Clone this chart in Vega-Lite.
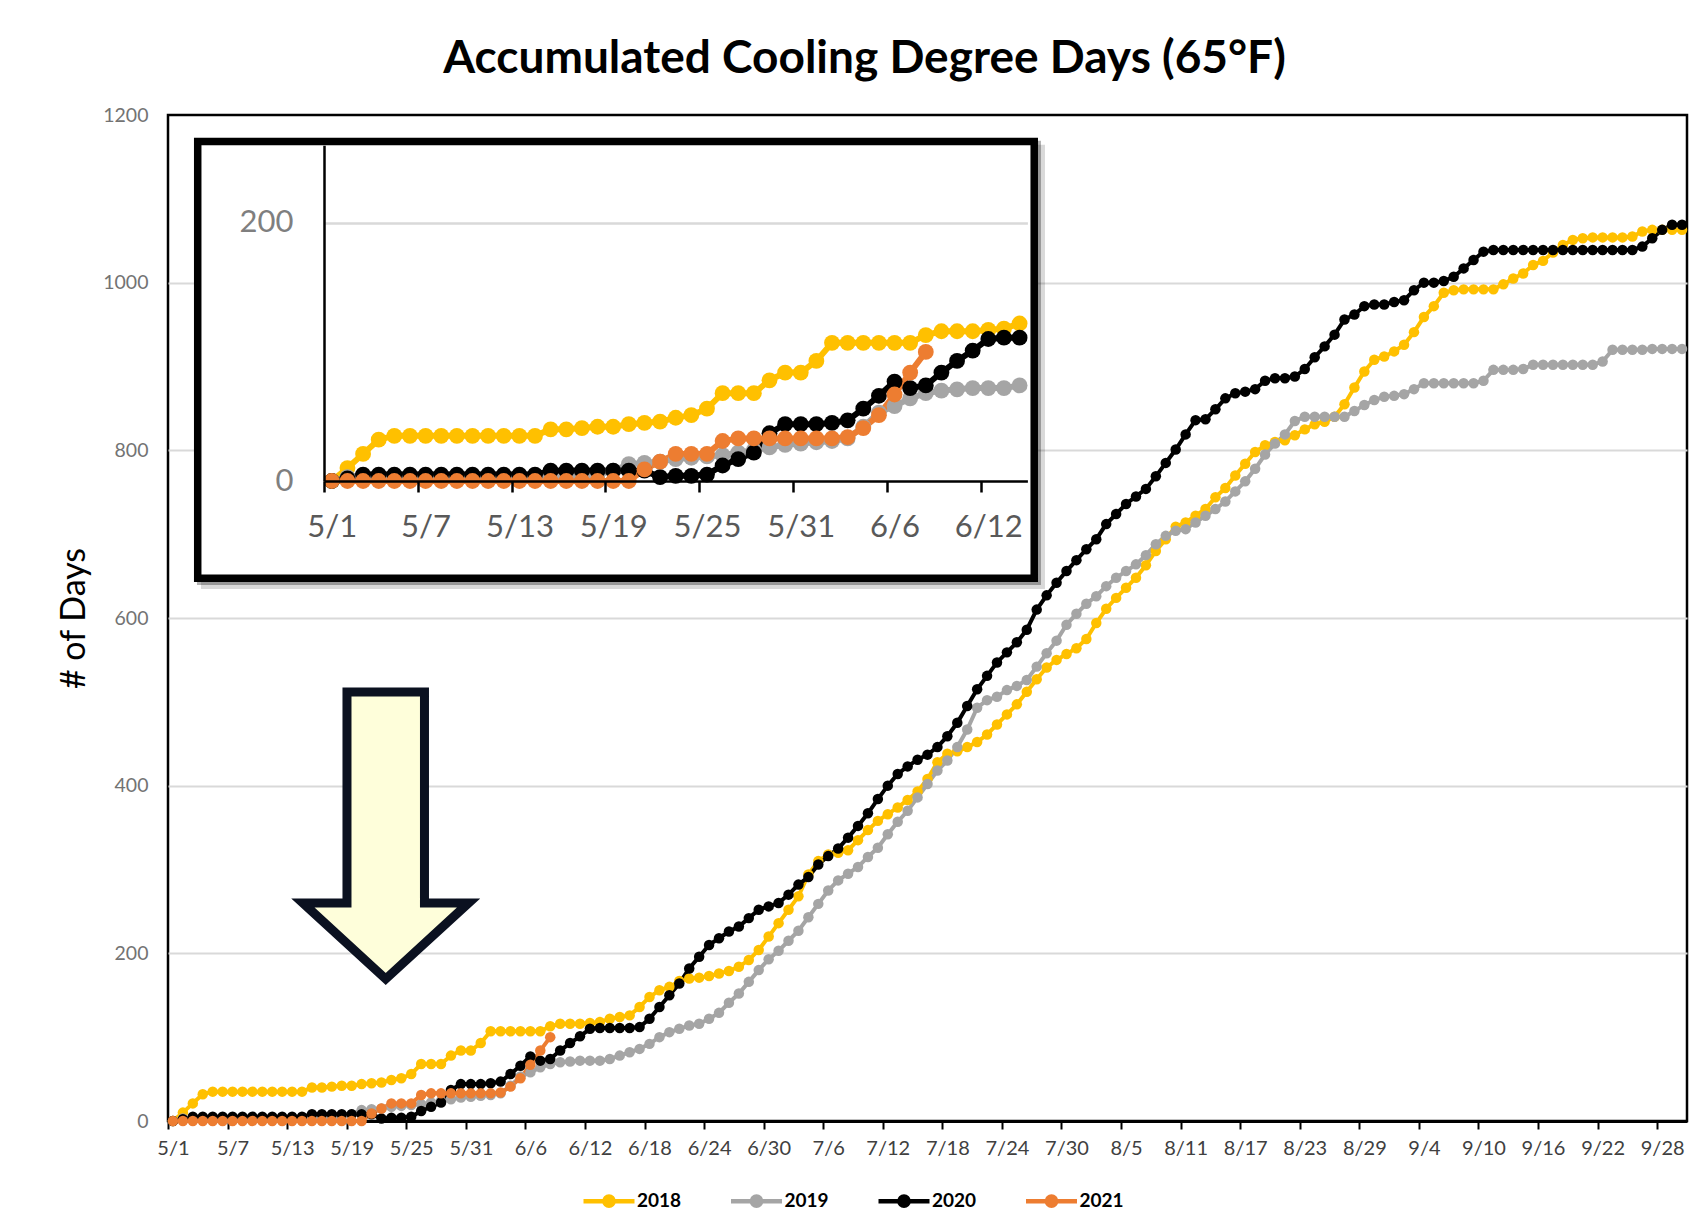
{
"$schema":"https://vega.github.io/schema/vega-lite/v6.json",
"width":1519,"height":1006,
"autosize":{"type":"none"},
"padding":{"left":168,"top":115,"right":12,"bottom":110},
"background":"white",
"title":{"text":"Accumulated Cooling Degree Days (65°F)","font":"Lato","fontSize":46,"fontWeight":"bold","color":"black","anchor":"middle","frame":"group","offset":22,"dx":-63},
"config":{"view":{"stroke":"black","strokeWidth":2.5},"font":"Lato"},
"data":{"values":[
{"d":"2021-05-01","s":"2018","v":0},{"d":"2021-05-02","s":"2018","v":10},{"d":"2021-05-03","s":"2018","v":21},{"d":"2021-05-04","s":"2018","v":32},{"d":"2021-05-05","s":"2018","v":35},{"d":"2021-05-06","s":"2018","v":35},{"d":"2021-05-07","s":"2018","v":35},{"d":"2021-05-08","s":"2018","v":35},{"d":"2021-05-09","s":"2018","v":35},{"d":"2021-05-10","s":"2018","v":35},{"d":"2021-05-11","s":"2018","v":35},{"d":"2021-05-12","s":"2018","v":35},{"d":"2021-05-13","s":"2018","v":35},{"d":"2021-05-14","s":"2018","v":35},{"d":"2021-05-15","s":"2018","v":40},{"d":"2021-05-16","s":"2018","v":40},{"d":"2021-05-17","s":"2018","v":41},{"d":"2021-05-18","s":"2018","v":42},{"d":"2021-05-19","s":"2018","v":42},{"d":"2021-05-20","s":"2018","v":44},{"d":"2021-05-21","s":"2018","v":45},{"d":"2021-05-22","s":"2018","v":46},{"d":"2021-05-23","s":"2018","v":49},{"d":"2021-05-24","s":"2018","v":51},{"d":"2021-05-25","s":"2018","v":56},{"d":"2021-05-26","s":"2018","v":68},{"d":"2021-05-27","s":"2018","v":68},{"d":"2021-05-28","s":"2018","v":68},{"d":"2021-05-29","s":"2018","v":78},{"d":"2021-05-30","s":"2018","v":84},{"d":"2021-05-31","s":"2018","v":84},
{"d":"2021-06-01","s":"2018","v":93},{"d":"2021-06-02","s":"2018","v":107},{"d":"2021-06-03","s":"2018","v":107},{"d":"2021-06-04","s":"2018","v":107},{"d":"2021-06-05","s":"2018","v":107},{"d":"2021-06-06","s":"2018","v":107},{"d":"2021-06-07","s":"2018","v":107},{"d":"2021-06-08","s":"2018","v":113},{"d":"2021-06-09","s":"2018","v":116},{"d":"2021-06-10","s":"2018","v":116},{"d":"2021-06-11","s":"2018","v":116},{"d":"2021-06-12","s":"2018","v":117},{"d":"2021-06-13","s":"2018","v":118},{"d":"2021-06-14","s":"2018","v":122},{"d":"2021-06-15","s":"2018","v":124},{"d":"2021-06-16","s":"2018","v":126},{"d":"2021-06-17","s":"2018","v":136},{"d":"2021-06-18","s":"2018","v":148},{"d":"2021-06-19","s":"2018","v":156},{"d":"2021-06-20","s":"2018","v":160},{"d":"2021-06-21","s":"2018","v":167},{"d":"2021-06-22","s":"2018","v":170},{"d":"2021-06-23","s":"2018","v":171},{"d":"2021-06-24","s":"2018","v":173},{"d":"2021-06-25","s":"2018","v":176},{"d":"2021-06-26","s":"2018","v":179},{"d":"2021-06-27","s":"2018","v":184},{"d":"2021-06-28","s":"2018","v":192},{"d":"2021-06-29","s":"2018","v":204},{"d":"2021-06-30","s":"2018","v":220},
{"d":"2021-07-01","s":"2018","v":236},{"d":"2021-07-02","s":"2018","v":252},{"d":"2021-07-03","s":"2018","v":268},{"d":"2021-07-04","s":"2018","v":294},{"d":"2021-07-05","s":"2018","v":310},{"d":"2021-07-06","s":"2018","v":318},{"d":"2021-07-07","s":"2018","v":320},{"d":"2021-07-08","s":"2018","v":323},{"d":"2021-07-09","s":"2018","v":335},{"d":"2021-07-10","s":"2018","v":347},{"d":"2021-07-11","s":"2018","v":358},{"d":"2021-07-12","s":"2018","v":366},{"d":"2021-07-13","s":"2018","v":374},{"d":"2021-07-14","s":"2018","v":383},{"d":"2021-07-15","s":"2018","v":393},{"d":"2021-07-16","s":"2018","v":408},{"d":"2021-07-17","s":"2018","v":428},{"d":"2021-07-18","s":"2018","v":438},{"d":"2021-07-19","s":"2018","v":441},{"d":"2021-07-20","s":"2018","v":446},{"d":"2021-07-21","s":"2018","v":452},{"d":"2021-07-22","s":"2018","v":461},{"d":"2021-07-23","s":"2018","v":473},{"d":"2021-07-24","s":"2018","v":485},{"d":"2021-07-25","s":"2018","v":497},{"d":"2021-07-26","s":"2018","v":512},{"d":"2021-07-27","s":"2018","v":527},{"d":"2021-07-28","s":"2018","v":541},{"d":"2021-07-29","s":"2018","v":550},{"d":"2021-07-30","s":"2018","v":557},{"d":"2021-07-31","s":"2018","v":564},
{"d":"2021-08-01","s":"2018","v":575},{"d":"2021-08-02","s":"2018","v":594},{"d":"2021-08-03","s":"2018","v":611},{"d":"2021-08-04","s":"2018","v":624},{"d":"2021-08-05","s":"2018","v":636},{"d":"2021-08-06","s":"2018","v":648},{"d":"2021-08-07","s":"2018","v":663},{"d":"2021-08-08","s":"2018","v":680},{"d":"2021-08-09","s":"2018","v":694},{"d":"2021-08-10","s":"2018","v":709},{"d":"2021-08-11","s":"2018","v":714},{"d":"2021-08-12","s":"2018","v":722},{"d":"2021-08-13","s":"2018","v":730},{"d":"2021-08-14","s":"2018","v":744},{"d":"2021-08-15","s":"2018","v":755},{"d":"2021-08-16","s":"2018","v":770},{"d":"2021-08-17","s":"2018","v":784},{"d":"2021-08-18","s":"2018","v":798},{"d":"2021-08-19","s":"2018","v":806},{"d":"2021-08-20","s":"2018","v":810},{"d":"2021-08-21","s":"2018","v":812},{"d":"2021-08-22","s":"2018","v":818},{"d":"2021-08-23","s":"2018","v":825},{"d":"2021-08-24","s":"2018","v":831},{"d":"2021-08-25","s":"2018","v":834},{"d":"2021-08-26","s":"2018","v":840},{"d":"2021-08-27","s":"2018","v":855},{"d":"2021-08-28","s":"2018","v":875},{"d":"2021-08-29","s":"2018","v":894},{"d":"2021-08-30","s":"2018","v":908},{"d":"2021-08-31","s":"2018","v":912},
{"d":"2021-09-01","s":"2018","v":918},{"d":"2021-09-02","s":"2018","v":926},{"d":"2021-09-03","s":"2018","v":941},{"d":"2021-09-04","s":"2018","v":959},{"d":"2021-09-05","s":"2018","v":972},{"d":"2021-09-06","s":"2018","v":988},{"d":"2021-09-07","s":"2018","v":991},{"d":"2021-09-08","s":"2018","v":992},{"d":"2021-09-09","s":"2018","v":992},{"d":"2021-09-10","s":"2018","v":992},{"d":"2021-09-11","s":"2018","v":992},{"d":"2021-09-12","s":"2018","v":998},{"d":"2021-09-13","s":"2018","v":1005},{"d":"2021-09-14","s":"2018","v":1011},{"d":"2021-09-15","s":"2018","v":1021},{"d":"2021-09-16","s":"2018","v":1026},{"d":"2021-09-17","s":"2018","v":1036},{"d":"2021-09-18","s":"2018","v":1045},{"d":"2021-09-19","s":"2018","v":1051},{"d":"2021-09-20","s":"2018","v":1053},{"d":"2021-09-21","s":"2018","v":1054},{"d":"2021-09-22","s":"2018","v":1054},{"d":"2021-09-23","s":"2018","v":1054},{"d":"2021-09-24","s":"2018","v":1054},{"d":"2021-09-25","s":"2018","v":1055},{"d":"2021-09-26","s":"2018","v":1061},{"d":"2021-09-27","s":"2018","v":1063},{"d":"2021-09-28","s":"2018","v":1063},{"d":"2021-09-29","s":"2018","v":1063},{"d":"2021-09-30","s":"2018","v":1063},
{"d":"2021-05-01","s":"2019","v":0},{"d":"2021-05-02","s":"2019","v":3},{"d":"2021-05-03","s":"2019","v":3},{"d":"2021-05-04","s":"2019","v":3},{"d":"2021-05-05","s":"2019","v":3},{"d":"2021-05-06","s":"2019","v":3},{"d":"2021-05-07","s":"2019","v":3},{"d":"2021-05-08","s":"2019","v":3},{"d":"2021-05-09","s":"2019","v":3},{"d":"2021-05-10","s":"2019","v":3},{"d":"2021-05-11","s":"2019","v":3},{"d":"2021-05-12","s":"2019","v":3},{"d":"2021-05-13","s":"2019","v":3},{"d":"2021-05-14","s":"2019","v":3},{"d":"2021-05-15","s":"2019","v":3},{"d":"2021-05-16","s":"2019","v":3},{"d":"2021-05-17","s":"2019","v":4},{"d":"2021-05-18","s":"2019","v":5},{"d":"2021-05-19","s":"2019","v":8},{"d":"2021-05-20","s":"2019","v":13},{"d":"2021-05-21","s":"2019","v":14},{"d":"2021-05-22","s":"2019","v":15},{"d":"2021-05-23","s":"2019","v":17},{"d":"2021-05-24","s":"2019","v":18},{"d":"2021-05-25","s":"2019","v":19},{"d":"2021-05-26","s":"2019","v":20},{"d":"2021-05-27","s":"2019","v":22},{"d":"2021-05-28","s":"2019","v":24},{"d":"2021-05-29","s":"2019","v":26},{"d":"2021-05-30","s":"2019","v":28},{"d":"2021-05-31","s":"2019","v":29},
{"d":"2021-06-01","s":"2019","v":30},{"d":"2021-06-02","s":"2019","v":31},{"d":"2021-06-03","s":"2019","v":33},{"d":"2021-06-04","s":"2019","v":42},{"d":"2021-06-05","s":"2019","v":53},{"d":"2021-06-06","s":"2019","v":58},{"d":"2021-06-07","s":"2019","v":64},{"d":"2021-06-08","s":"2019","v":68},{"d":"2021-06-09","s":"2019","v":70},{"d":"2021-06-10","s":"2019","v":71},{"d":"2021-06-11","s":"2019","v":72},{"d":"2021-06-12","s":"2019","v":72},{"d":"2021-06-13","s":"2019","v":72},{"d":"2021-06-14","s":"2019","v":74},{"d":"2021-06-15","s":"2019","v":78},{"d":"2021-06-16","s":"2019","v":82},{"d":"2021-06-17","s":"2019","v":86},{"d":"2021-06-18","s":"2019","v":92},{"d":"2021-06-19","s":"2019","v":100},{"d":"2021-06-20","s":"2019","v":106},{"d":"2021-06-21","s":"2019","v":110},{"d":"2021-06-22","s":"2019","v":114},{"d":"2021-06-23","s":"2019","v":116},{"d":"2021-06-24","s":"2019","v":122},{"d":"2021-06-25","s":"2019","v":129},{"d":"2021-06-26","s":"2019","v":141},{"d":"2021-06-27","s":"2019","v":152},{"d":"2021-06-28","s":"2019","v":166},{"d":"2021-06-29","s":"2019","v":180},{"d":"2021-06-30","s":"2019","v":193},
{"d":"2021-07-01","s":"2019","v":203},{"d":"2021-07-02","s":"2019","v":215},{"d":"2021-07-03","s":"2019","v":227},{"d":"2021-07-04","s":"2019","v":243},{"d":"2021-07-05","s":"2019","v":259},{"d":"2021-07-06","s":"2019","v":275},{"d":"2021-07-07","s":"2019","v":287},{"d":"2021-07-08","s":"2019","v":295},{"d":"2021-07-09","s":"2019","v":303},{"d":"2021-07-10","s":"2019","v":315},{"d":"2021-07-11","s":"2019","v":326},{"d":"2021-07-12","s":"2019","v":342},{"d":"2021-07-13","s":"2019","v":357},{"d":"2021-07-14","s":"2019","v":370},{"d":"2021-07-15","s":"2019","v":386},{"d":"2021-07-16","s":"2019","v":402},{"d":"2021-07-17","s":"2019","v":418},{"d":"2021-07-18","s":"2019","v":430},{"d":"2021-07-19","s":"2019","v":446},{"d":"2021-07-20","s":"2019","v":467},{"d":"2021-07-21","s":"2019","v":493},{"d":"2021-07-22","s":"2019","v":502},{"d":"2021-07-23","s":"2019","v":506},{"d":"2021-07-24","s":"2019","v":514},{"d":"2021-07-25","s":"2019","v":519},{"d":"2021-07-26","s":"2019","v":526},{"d":"2021-07-27","s":"2019","v":542},{"d":"2021-07-28","s":"2019","v":558},{"d":"2021-07-29","s":"2019","v":573},{"d":"2021-07-30","s":"2019","v":592},{"d":"2021-07-31","s":"2019","v":605},
{"d":"2021-08-01","s":"2019","v":617},{"d":"2021-08-02","s":"2019","v":626},{"d":"2021-08-03","s":"2019","v":638},{"d":"2021-08-04","s":"2019","v":648},{"d":"2021-08-05","s":"2019","v":656},{"d":"2021-08-06","s":"2019","v":664},{"d":"2021-08-07","s":"2019","v":675},{"d":"2021-08-08","s":"2019","v":688},{"d":"2021-08-09","s":"2019","v":698},{"d":"2021-08-10","s":"2019","v":704},{"d":"2021-08-11","s":"2019","v":706},{"d":"2021-08-12","s":"2019","v":714},{"d":"2021-08-13","s":"2019","v":722},{"d":"2021-08-14","s":"2019","v":730},{"d":"2021-08-15","s":"2019","v":739},{"d":"2021-08-16","s":"2019","v":751},{"d":"2021-08-17","s":"2019","v":763},{"d":"2021-08-18","s":"2019","v":778},{"d":"2021-08-19","s":"2019","v":795},{"d":"2021-08-20","s":"2019","v":808},{"d":"2021-08-21","s":"2019","v":819},{"d":"2021-08-22","s":"2019","v":835},{"d":"2021-08-23","s":"2019","v":840},{"d":"2021-08-24","s":"2019","v":840},{"d":"2021-08-25","s":"2019","v":840},{"d":"2021-08-26","s":"2019","v":840},{"d":"2021-08-27","s":"2019","v":840},{"d":"2021-08-28","s":"2019","v":847},{"d":"2021-08-29","s":"2019","v":854},{"d":"2021-08-30","s":"2019","v":860},{"d":"2021-08-31","s":"2019","v":864},
{"d":"2021-09-01","s":"2019","v":865},{"d":"2021-09-02","s":"2019","v":867},{"d":"2021-09-03","s":"2019","v":873},{"d":"2021-09-04","s":"2019","v":880},{"d":"2021-09-05","s":"2019","v":880},{"d":"2021-09-06","s":"2019","v":880},{"d":"2021-09-07","s":"2019","v":880},{"d":"2021-09-08","s":"2019","v":880},{"d":"2021-09-09","s":"2019","v":880},{"d":"2021-09-10","s":"2019","v":883},{"d":"2021-09-11","s":"2019","v":896},{"d":"2021-09-12","s":"2019","v":896},{"d":"2021-09-13","s":"2019","v":896},{"d":"2021-09-14","s":"2019","v":897},{"d":"2021-09-15","s":"2019","v":902},{"d":"2021-09-16","s":"2019","v":902},{"d":"2021-09-17","s":"2019","v":902},{"d":"2021-09-18","s":"2019","v":902},{"d":"2021-09-19","s":"2019","v":902},{"d":"2021-09-20","s":"2019","v":902},{"d":"2021-09-21","s":"2019","v":902},{"d":"2021-09-22","s":"2019","v":906},{"d":"2021-09-23","s":"2019","v":920},{"d":"2021-09-24","s":"2019","v":920},{"d":"2021-09-25","s":"2019","v":920},{"d":"2021-09-26","s":"2019","v":920},{"d":"2021-09-27","s":"2019","v":921},{"d":"2021-09-28","s":"2019","v":921},{"d":"2021-09-29","s":"2019","v":921},{"d":"2021-09-30","s":"2019","v":921},
{"d":"2021-05-01","s":"2020","v":0},{"d":"2021-05-02","s":"2020","v":2},{"d":"2021-05-03","s":"2020","v":5},{"d":"2021-05-04","s":"2020","v":5},{"d":"2021-05-05","s":"2020","v":5},{"d":"2021-05-06","s":"2020","v":5},{"d":"2021-05-07","s":"2020","v":5},{"d":"2021-05-08","s":"2020","v":5},{"d":"2021-05-09","s":"2020","v":5},{"d":"2021-05-10","s":"2020","v":5},{"d":"2021-05-11","s":"2020","v":5},{"d":"2021-05-12","s":"2020","v":5},{"d":"2021-05-13","s":"2020","v":5},{"d":"2021-05-14","s":"2020","v":5},{"d":"2021-05-15","s":"2020","v":8},{"d":"2021-05-16","s":"2020","v":8},{"d":"2021-05-17","s":"2020","v":8},{"d":"2021-05-18","s":"2020","v":8},{"d":"2021-05-19","s":"2020","v":8},{"d":"2021-05-20","s":"2020","v":8},{"d":"2021-05-21","s":"2020","v":8},{"d":"2021-05-22","s":"2020","v":3},{"d":"2021-05-23","s":"2020","v":4},{"d":"2021-05-24","s":"2020","v":4},{"d":"2021-05-25","s":"2020","v":5},{"d":"2021-05-26","s":"2020","v":12},{"d":"2021-05-27","s":"2020","v":17},{"d":"2021-05-28","s":"2020","v":22},{"d":"2021-05-29","s":"2020","v":37},{"d":"2021-05-30","s":"2020","v":44},{"d":"2021-05-31","s":"2020","v":44},
{"d":"2021-06-01","s":"2020","v":44},{"d":"2021-06-02","s":"2020","v":45},{"d":"2021-06-03","s":"2020","v":47},{"d":"2021-06-04","s":"2020","v":56},{"d":"2021-06-05","s":"2020","v":66},{"d":"2021-06-06","s":"2020","v":77},{"d":"2021-06-07","s":"2020","v":72},{"d":"2021-06-08","s":"2020","v":74},{"d":"2021-06-09","s":"2020","v":84},{"d":"2021-06-10","s":"2020","v":93},{"d":"2021-06-11","s":"2020","v":101},{"d":"2021-06-12","s":"2020","v":110},{"d":"2021-06-13","s":"2020","v":111},{"d":"2021-06-14","s":"2020","v":111},{"d":"2021-06-15","s":"2020","v":111},{"d":"2021-06-16","s":"2020","v":111},{"d":"2021-06-17","s":"2020","v":112},{"d":"2021-06-18","s":"2020","v":122},{"d":"2021-06-19","s":"2020","v":136},{"d":"2021-06-20","s":"2020","v":150},{"d":"2021-06-21","s":"2020","v":164},{"d":"2021-06-22","s":"2020","v":182},{"d":"2021-06-23","s":"2020","v":196},{"d":"2021-06-24","s":"2020","v":210},{"d":"2021-06-25","s":"2020","v":218},{"d":"2021-06-26","s":"2020","v":226},{"d":"2021-06-27","s":"2020","v":232},{"d":"2021-06-28","s":"2020","v":242},{"d":"2021-06-29","s":"2020","v":252},{"d":"2021-06-30","s":"2020","v":256},
{"d":"2021-07-01","s":"2020","v":260},{"d":"2021-07-02","s":"2020","v":270},{"d":"2021-07-03","s":"2020","v":282},{"d":"2021-07-04","s":"2020","v":291},{"d":"2021-07-05","s":"2020","v":306},{"d":"2021-07-06","s":"2020","v":316},{"d":"2021-07-07","s":"2020","v":325},{"d":"2021-07-08","s":"2020","v":338},{"d":"2021-07-09","s":"2020","v":352},{"d":"2021-07-10","s":"2020","v":367},{"d":"2021-07-11","s":"2020","v":384},{"d":"2021-07-12","s":"2020","v":400},{"d":"2021-07-13","s":"2020","v":414},{"d":"2021-07-14","s":"2020","v":423},{"d":"2021-07-15","s":"2020","v":431},{"d":"2021-07-16","s":"2020","v":437},{"d":"2021-07-17","s":"2020","v":446},{"d":"2021-07-18","s":"2020","v":459},{"d":"2021-07-19","s":"2020","v":475},{"d":"2021-07-20","s":"2020","v":495},{"d":"2021-07-21","s":"2020","v":515},{"d":"2021-07-22","s":"2020","v":531},{"d":"2021-07-23","s":"2020","v":547},{"d":"2021-07-24","s":"2020","v":559},{"d":"2021-07-25","s":"2020","v":571},{"d":"2021-07-26","s":"2020","v":586},{"d":"2021-07-27","s":"2020","v":610},{"d":"2021-07-28","s":"2020","v":627},{"d":"2021-07-29","s":"2020","v":642},{"d":"2021-07-30","s":"2020","v":656},{"d":"2021-07-31","s":"2020","v":669},
{"d":"2021-08-01","s":"2020","v":682},{"d":"2021-08-02","s":"2020","v":694},{"d":"2021-08-03","s":"2020","v":712},{"d":"2021-08-04","s":"2020","v":724},{"d":"2021-08-05","s":"2020","v":736},{"d":"2021-08-06","s":"2020","v":745},{"d":"2021-08-07","s":"2020","v":754},{"d":"2021-08-08","s":"2020","v":769},{"d":"2021-08-09","s":"2020","v":785},{"d":"2021-08-10","s":"2020","v":801},{"d":"2021-08-11","s":"2020","v":819},{"d":"2021-08-12","s":"2020","v":836},{"d":"2021-08-13","s":"2020","v":837},{"d":"2021-08-14","s":"2020","v":849},{"d":"2021-08-15","s":"2020","v":862},{"d":"2021-08-16","s":"2020","v":868},{"d":"2021-08-17","s":"2020","v":870},{"d":"2021-08-18","s":"2020","v":873},{"d":"2021-08-19","s":"2020","v":883},{"d":"2021-08-20","s":"2020","v":886},{"d":"2021-08-21","s":"2020","v":886},{"d":"2021-08-22","s":"2020","v":888},{"d":"2021-08-23","s":"2020","v":897},{"d":"2021-08-24","s":"2020","v":911},{"d":"2021-08-25","s":"2020","v":924},{"d":"2021-08-26","s":"2020","v":938},{"d":"2021-08-27","s":"2020","v":956},{"d":"2021-08-28","s":"2020","v":962},{"d":"2021-08-29","s":"2020","v":972},{"d":"2021-08-30","s":"2020","v":974},{"d":"2021-08-31","s":"2020","v":974},
{"d":"2021-09-01","s":"2020","v":977},{"d":"2021-09-02","s":"2020","v":979},{"d":"2021-09-03","s":"2020","v":991},{"d":"2021-09-04","s":"2020","v":1000},{"d":"2021-09-05","s":"2020","v":1000},{"d":"2021-09-06","s":"2020","v":1002},{"d":"2021-09-07","s":"2020","v":1007},{"d":"2021-09-08","s":"2020","v":1017},{"d":"2021-09-09","s":"2020","v":1027},{"d":"2021-09-10","s":"2020","v":1037},{"d":"2021-09-11","s":"2020","v":1039},{"d":"2021-09-12","s":"2020","v":1039},{"d":"2021-09-13","s":"2020","v":1039},{"d":"2021-09-14","s":"2020","v":1039},{"d":"2021-09-15","s":"2020","v":1039},{"d":"2021-09-16","s":"2020","v":1039},{"d":"2021-09-17","s":"2020","v":1039},{"d":"2021-09-18","s":"2020","v":1039},{"d":"2021-09-19","s":"2020","v":1039},{"d":"2021-09-20","s":"2020","v":1039},{"d":"2021-09-21","s":"2020","v":1039},{"d":"2021-09-22","s":"2020","v":1039},{"d":"2021-09-23","s":"2020","v":1039},{"d":"2021-09-24","s":"2020","v":1039},{"d":"2021-09-25","s":"2020","v":1039},{"d":"2021-09-26","s":"2020","v":1043},{"d":"2021-09-27","s":"2020","v":1053},{"d":"2021-09-28","s":"2020","v":1063},{"d":"2021-09-29","s":"2020","v":1069},{"d":"2021-09-30","s":"2020","v":1069},
{"d":"2021-05-01","s":"2021","v":0},{"d":"2021-05-02","s":"2021","v":0},{"d":"2021-05-03","s":"2021","v":0},{"d":"2021-05-04","s":"2021","v":0},{"d":"2021-05-05","s":"2021","v":0},{"d":"2021-05-06","s":"2021","v":0},{"d":"2021-05-07","s":"2021","v":0},{"d":"2021-05-08","s":"2021","v":0},{"d":"2021-05-09","s":"2021","v":0},{"d":"2021-05-10","s":"2021","v":0},{"d":"2021-05-11","s":"2021","v":0},{"d":"2021-05-12","s":"2021","v":0},{"d":"2021-05-13","s":"2021","v":0},{"d":"2021-05-14","s":"2021","v":0},{"d":"2021-05-15","s":"2021","v":0},{"d":"2021-05-16","s":"2021","v":0},{"d":"2021-05-17","s":"2021","v":0},{"d":"2021-05-18","s":"2021","v":0},{"d":"2021-05-19","s":"2021","v":0},{"d":"2021-05-20","s":"2021","v":0},{"d":"2021-05-21","s":"2021","v":9},{"d":"2021-05-22","s":"2021","v":15},{"d":"2021-05-23","s":"2021","v":21},{"d":"2021-05-24","s":"2021","v":21},{"d":"2021-05-25","s":"2021","v":21},{"d":"2021-05-26","s":"2021","v":31},{"d":"2021-05-27","s":"2021","v":33},{"d":"2021-05-28","s":"2021","v":33},{"d":"2021-05-29","s":"2021","v":33},{"d":"2021-05-30","s":"2021","v":33},{"d":"2021-05-31","s":"2021","v":33},
{"d":"2021-06-01","s":"2021","v":33},{"d":"2021-06-02","s":"2021","v":33},{"d":"2021-06-03","s":"2021","v":34},{"d":"2021-06-04","s":"2021","v":41},{"d":"2021-06-05","s":"2021","v":51},{"d":"2021-06-06","s":"2021","v":67},{"d":"2021-06-07","s":"2021","v":84},{"d":"2021-06-08","s":"2021","v":100}
]},
"layer":[
{"layer":[
 {"mark":{"type":"line","strokeWidth":4},
  "encoding":{
   "x":{"field":"d","type":"temporal","scale":{"type":"utc","domain":[{"year":2021,"month":4,"date":30,"hours":12,"utc":true},{"year":2021,"month":9,"date":30,"hours":12,"utc":true}]},
    "axis":{"title":null,"grid":false,"labelExpr":"utcFormat(datum.value, '%-m/%-d')","labelOverlap":false,"labelFlush":false,"labelFont":"Lato","labelFontSize":20,"labelColor":"#404040","labelPadding":9,"domainColor":"black","domainWidth":3,"tickColor":"black","tickWidth":2,"tickSize":8,"tickOffset":-5,"labelOffset":5,
     "values":[{"year":2021,"month":5,"date":1,"utc":true},{"year":2021,"month":5,"date":7,"utc":true},{"year":2021,"month":5,"date":13,"utc":true},{"year":2021,"month":5,"date":19,"utc":true},{"year":2021,"month":5,"date":25,"utc":true},{"year":2021,"month":5,"date":31,"utc":true},{"year":2021,"month":6,"date":6,"utc":true},{"year":2021,"month":6,"date":12,"utc":true},{"year":2021,"month":6,"date":18,"utc":true},{"year":2021,"month":6,"date":24,"utc":true},{"year":2021,"month":6,"date":30,"utc":true},{"year":2021,"month":7,"date":6,"utc":true},{"year":2021,"month":7,"date":12,"utc":true},{"year":2021,"month":7,"date":18,"utc":true},{"year":2021,"month":7,"date":24,"utc":true},{"year":2021,"month":7,"date":30,"utc":true},{"year":2021,"month":8,"date":5,"utc":true},{"year":2021,"month":8,"date":11,"utc":true},{"year":2021,"month":8,"date":17,"utc":true},{"year":2021,"month":8,"date":23,"utc":true},{"year":2021,"month":8,"date":29,"utc":true},{"year":2021,"month":9,"date":4,"utc":true},{"year":2021,"month":9,"date":10,"utc":true},{"year":2021,"month":9,"date":16,"utc":true},{"year":2021,"month":9,"date":22,"utc":true},{"year":2021,"month":9,"date":28,"utc":true}]}},
   "y":{"field":"v","type":"quantitative","scale":{"domain":[0,1200]},
    "axis":{"values":[0,200,400,600,800,1000,1200],"format":"d","title":"# of Days","titleFont":"Lato","titleFontSize":34,"titleFontWeight":"normal","titleColor":"black","titlePadding":11,"labelFont":"Lato","labelFontSize":19.5,"labelColor":"#737373","labelPadding":20,"ticks":false,"domain":false,"grid":true,"gridWidth":2,"gridColor":{"condition":{"test":"datum.value === 0 || datum.value === 1200","value":"transparent"},"value":"#D9D9D9"}}},
   "color":{"field":"s","type":"nominal","scale":{"domain":["2018","2019","2020","2021"],"range":["#FFC000","#A5A5A5","#000000","#ED7D31"]},
    "legend":{"title":null,"orient":"none","legendX":413,"legendY":1058,"direction":"horizontal","padding":0,"symbolType":"M-1,0L1,0M0.045,0A0.045,0.045 0 1,1 -0.045,0A0.045,0.045 0 1,1 0.045,0M0.09,0A0.09,0.09 0 1,1 -0.09,0A0.09,0.09 0 1,1 0.09,0M0.135,0A0.135,0.135 0 1,1 -0.135,0A0.135,0.135 0 1,1 0.135,0M0.18,0A0.18,0.18 0 1,1 -0.18,0A0.18,0.18 0 1,1 0.18,0","symbolSize":2601,"symbolStrokeWidth":4.5,"labelFont":"Lato","labelFontSize":19,"labelFontWeight":"bold","labelColor":"black","labelOffset":0,"columnPadding":39.5}}
  }},
 {"mark":{"type":"point","filled":true,"size":110,"opacity":1},
  "encoding":{
   "x":{"field":"d","type":"temporal",
    "axis":{"title":null,"grid":false,"labelExpr":"utcFormat(datum.value, '%-m/%-d')","labelOverlap":false,"labelFlush":false,"labelFont":"Lato","labelFontSize":20,"labelColor":"#404040","labelPadding":9,"domainColor":"black","domainWidth":3,"tickColor":"black","tickWidth":2,"tickSize":8,"tickOffset":-5,"labelOffset":5,
     "values":[{"year":2021,"month":5,"date":1,"utc":true},{"year":2021,"month":5,"date":7,"utc":true},{"year":2021,"month":5,"date":13,"utc":true},{"year":2021,"month":5,"date":19,"utc":true},{"year":2021,"month":5,"date":25,"utc":true},{"year":2021,"month":5,"date":31,"utc":true},{"year":2021,"month":6,"date":6,"utc":true},{"year":2021,"month":6,"date":12,"utc":true},{"year":2021,"month":6,"date":18,"utc":true},{"year":2021,"month":6,"date":24,"utc":true},{"year":2021,"month":6,"date":30,"utc":true},{"year":2021,"month":7,"date":6,"utc":true},{"year":2021,"month":7,"date":12,"utc":true},{"year":2021,"month":7,"date":18,"utc":true},{"year":2021,"month":7,"date":24,"utc":true},{"year":2021,"month":7,"date":30,"utc":true},{"year":2021,"month":8,"date":5,"utc":true},{"year":2021,"month":8,"date":11,"utc":true},{"year":2021,"month":8,"date":17,"utc":true},{"year":2021,"month":8,"date":23,"utc":true},{"year":2021,"month":8,"date":29,"utc":true},{"year":2021,"month":9,"date":4,"utc":true},{"year":2021,"month":9,"date":10,"utc":true},{"year":2021,"month":9,"date":16,"utc":true},{"year":2021,"month":9,"date":22,"utc":true},{"year":2021,"month":9,"date":28,"utc":true}]}},
   "y":{"field":"v","type":"quantitative",
    "axis":{"values":[0,200,400,600,800,1000,1200],"format":"d","title":"# of Days","titleFont":"Lato","titleFontSize":34,"titleFontWeight":"normal","titleColor":"black","titlePadding":11,"labelFont":"Lato","labelFontSize":19.5,"labelColor":"#737373","labelPadding":20,"ticks":false,"domain":false,"grid":true,"gridWidth":2,"gridColor":{"condition":{"test":"datum.value === 0 || datum.value === 1200","value":"transparent"},"value":"#D9D9D9"}}},
   "color":{"field":"s","type":"nominal","legend":null}
  }}
]},
{"layer":[
 {"data":{"values":[{}]},"mark":{"type":"rect","fill":"black","opacity":0.3},
  "encoding":{"x":{"datum":{"year":2021,"month":5,"date":3,"hours":10,"utc":true},"type":"temporal","axis":null,"scale":{"type":"utc","domain":[{"year":2021,"month":4,"date":30,"hours":12,"utc":true},{"year":2021,"month":9,"date":30,"hours":12,"utc":true}]}},"x2":{"datum":{"year":2021,"month":7,"date":27,"hours":10,"minutes":20,"utc":true}},"y":{"datum":1169.4,"type":"quantitative","axis":null,"scale":{"domain":[0,1200]}},"y2":{"datum":639.4}}},
 {"data":{"values":[{}]},"mark":{"type":"rect","fill":"black","opacity":0.15},
  "encoding":{"x":{"datum":{"year":2021,"month":5,"date":3,"hours":19,"minutes":40,"utc":true},"type":"temporal","axis":null},"x2":{"datum":{"year":2021,"month":7,"date":27,"hours":20,"utc":true}},"y":{"datum":1164.6,"type":"quantitative","axis":null},"y2":{"datum":634.6}}},
 {"data":{"values":[{}]},"mark":{"type":"rect","fill":"white","stroke":"black","strokeWidth":7.5},
  "encoding":{"x":{"datum":{"year":2021,"month":5,"date":3,"hours":11,"minutes":50,"utc":true},"type":"temporal","axis":null},"x2":{"datum":{"year":2021,"month":7,"date":26,"hours":18,"utc":true}},"y":{"datum":1168.4,"type":"quantitative","axis":null},"y2":{"datum":647.4}}},
 {"data":{"values":[{}]},"mark":{"type":"point","shape":"M-0.27,-1L0.27,-1L0.27,0.47L0.578,0.47L0,1L-0.578,0.47L-0.27,0.47Z","size":82369,"filled":true,"fill":"#FEFEDA","stroke":"#0B1120","strokeWidth":9,"opacity":1,"strokeJoin":"miter","strokeMiterLimit":10},
  "encoding":{"x":{"datum":{"year":2021,"month":5,"date":22,"hours":10,"minutes":20,"utc":true},"type":"temporal","axis":null},"y":{"datum":340.6,"type":"quantitative","axis":null}}}
]},
{"transform":[{"filter":"toDate(datum.d) < utc(2021,5,15)"}],
 "layer":[
 {"mark":{"type":"line","strokeWidth":6},
  "encoding":{
   "x":{"field":"d","type":"temporal","scale":{"type":"utc","domain":[{"year":2021,"month":4,"date":30,"hours":12,"utc":true},{"year":2021,"month":6,"date":14,"hours":12,"utc":true}],"range":[156,859.4]},
    "axis":{"orient":"bottom","offset":-640,"zindex":1,"title":null,"grid":false,"labelExpr":"utcFormat(datum.value, '%-m/%-d')","labelOverlap":false,"labelFlush":false,"labelFont":"Lato","labelFontSize":31,"labelColor":"#595959","labelPadding":20,"domainColor":"black","domainWidth":2.5,"tickColor":"black","tickWidth":2.5,"tickSize":11,"tickOffset":-7.8,"labelOffset":7.8,
     "values":[{"year":2021,"month":5,"date":1,"utc":true},{"year":2021,"month":5,"date":7,"utc":true},{"year":2021,"month":5,"date":13,"utc":true},{"year":2021,"month":5,"date":19,"utc":true},{"year":2021,"month":5,"date":25,"utc":true},{"year":2021,"month":5,"date":31,"utc":true},{"year":2021,"month":6,"date":6,"utc":true},{"year":2021,"month":6,"date":12,"utc":true}]}},
   "y":{"field":"v","type":"quantitative","scale":{"domain":[0,255.6],"range":[366,30.3]},
    "axis":{"orient":"left","offset":-156,"zindex":1,"values":[0,200],"format":"d","title":null,"labelFont":"Lato","labelFontSize":31,"labelColor":"#7f7f7f","labelPadding":31,"ticks":false,"domainColor":"black","domainWidth":2.5,"grid":true,"gridWidth":2.5,"gridColor":{"condition":{"test":"datum.value === 0","value":"transparent"},"value":"#D9D9D9"}}},
   "color":{"field":"s","type":"nominal","legend":null}
  }},
 {"mark":{"type":"point","filled":true,"size":250,"opacity":1},
  "encoding":{
   "x":{"field":"d","type":"temporal",
    "axis":{"orient":"bottom","offset":-640,"zindex":1,"title":null,"grid":false,"labelExpr":"utcFormat(datum.value, '%-m/%-d')","labelOverlap":false,"labelFlush":false,"labelFont":"Lato","labelFontSize":31,"labelColor":"#595959","labelPadding":20,"domainColor":"black","domainWidth":2.5,"tickColor":"black","tickWidth":2.5,"tickSize":11,"tickOffset":-7.8,"labelOffset":7.8,
     "values":[{"year":2021,"month":5,"date":1,"utc":true},{"year":2021,"month":5,"date":7,"utc":true},{"year":2021,"month":5,"date":13,"utc":true},{"year":2021,"month":5,"date":19,"utc":true},{"year":2021,"month":5,"date":25,"utc":true},{"year":2021,"month":5,"date":31,"utc":true},{"year":2021,"month":6,"date":6,"utc":true},{"year":2021,"month":6,"date":12,"utc":true}]}},
   "y":{"field":"v","type":"quantitative",
    "axis":{"orient":"left","offset":-156,"zindex":1,"values":[0,200],"format":"d","title":null,"labelFont":"Lato","labelFontSize":31,"labelColor":"#7f7f7f","labelPadding":31,"ticks":false,"domainColor":"black","domainWidth":2.5,"grid":true,"gridWidth":2.5,"gridColor":{"condition":{"test":"datum.value === 0","value":"transparent"},"value":"#D9D9D9"}}},
   "color":{"field":"s","type":"nominal","legend":null}
  }}
 ]}
],
"resolve":{"scale":{"x":"independent","y":"independent"}}
}
